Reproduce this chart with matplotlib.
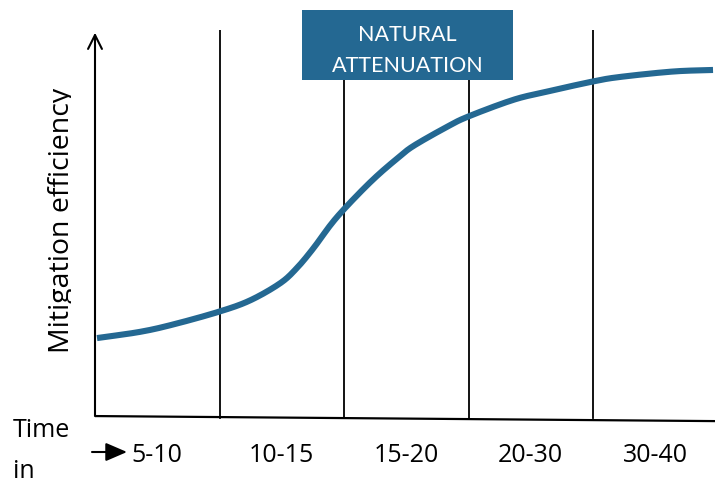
import matplotlib
matplotlib.use("Agg")
import matplotlib.pyplot as plt
from matplotlib.patches import Rectangle, FancyArrowPatch
from matplotlib.transforms import Bbox, TransformedBbox
import numpy as np

# ---- data ----
categories = ["5-10", "10-15", "15-20", "20-30", "30-40"]
curve_x = [0.016, 0.361, 0.627, 0.996, 1.245, 1.486, 1.620, 1.753, 1.888, 1.994,
           2.155, 2.289, 2.436, 2.557, 2.825, 2.998, 3.360, 3.628, 3.994, 4.217,
           4.643, 4.964]
curve_eff = [20.6, 22.2, 24.1, 27.4, 30.3, 34.7, 38.6, 43.7, 49.6, 53.6,
             59.0, 63.1, 67.1, 70.1, 75.0, 77.7, 82.0, 84.1, 86.7, 87.9,
             89.3, 89.7]
dividers = [1, 2, 3, 4]
title_lines = ["NATURAL", "ATTENUATION"]
ylabel = "Mitigation efficiency"
xlabel_lines = ["Time", "in"]

W, H = 715, 484
BLUE = "#246892"
FONT = "Open Sans"


def smooth(xs, ys, n=24):
    """Catmull-Rom rendering of the read points (drawing only)."""
    p = np.column_stack([xs, ys]).astype(float)
    p = np.vstack([2 * p[0] - p[1], p, 2 * p[-1] - p[-2]])
    out = []
    t = np.linspace(0, 1, n, endpoint=False)[:, None]
    for i in range(1, len(p) - 2):
        p0, p1, p2, p3 = p[i - 1], p[i], p[i + 1], p[i + 2]
        seg = 0.5 * ((2 * p1) + (-p0 + p2) * t + (2 * p0 - 5 * p1 + 4 * p2 - p3) * t ** 2
                     + (-p0 + 3 * p1 - 3 * p2 + p3) * t ** 3)
        out.append(seg)
    out.append(p[-2][None, :])
    out = np.vstack(out)
    return out[:, 0], out[:, 1]


fig = plt.figure(figsize=(W / 100, H / 100), dpi=100)

px_unit = 124.5
x0_px, y0_px, ytop_px = 95, 418, 30
py_unit = (y0_px - ytop_px) / 100.0
xmax = (W - x0_px) / px_unit
ymin, ymax = -2.0, 100.0
bottom_px = y0_px - ymin * py_unit
ax = fig.add_axes([x0_px / W, (H - bottom_px) / H, (W - x0_px) / W,
                   (ymax - ymin) * py_unit / H])
ax.set_xlim(0, xmax)
ax.set_ylim(ymin, ymax)
ax.axis("off")

sx, sy = smooth(curve_x, curve_eff)
ax.plot(sx, sy, color=BLUE, lw=4.4, solid_capstyle="butt",
        solid_joinstyle="round", zorder=3)

for d in dividers:
    ax.plot([d, d], [0, 100], color="black", lw=1.3, zorder=2)

ax.plot([0, xmax], [0.5, -0.8], color="black", lw=1.6, zorder=2)

ax.annotate("", xy=(0, 99.3), xytext=(0, 0.5),
            arrowprops=dict(arrowstyle="->,head_length=1.0,head_width=0.5",
                            color="black", lw=1.5, shrinkA=0, shrinkB=0))

for i, c in enumerate(categories):
    ax.text(i + 0.5, -11.3, c, ha="center", va="baseline", fontsize=18,
            family=FONT, color="black", clip_on=False)

fig_arrow_y = 1 - 452 / H
fig.patches.append(FancyArrowPatch(
    (92 / W, fig_arrow_y), (127 / W, fig_arrow_y), transform=fig.transFigure,
    arrowstyle="-|>,head_length=0.65,head_width=0.28", color="black", lw=1.5,
    shrinkA=0, shrinkB=0, mutation_scale=20))

fig.text(13 / W, 1 - 437 / H, xlabel_lines[0], ha="left", va="baseline",
         fontsize=18, family=FONT)
fig.text(13 / W, 1 - 478 / H, xlabel_lines[1], ha="left", va="baseline",
         fontsize=18, family=FONT)

# label axes: a strip left of the plot, its own clip box cuts the descenders
lab_ax = fig.add_axes([0, 0, 71 / W, 1])
lab_ax.set_xlim(0, 71)
lab_ax.set_ylim(H, 0)
lab_ax.axis("off")
lab_ax.text(68.5, 353, ylabel, rotation=90, ha="left", va="baseline",
            fontsize=20.5, family=FONT, rotation_mode="anchor", clip_on=True)

box = Rectangle((302 / W, 1 - 80 / H), (513 - 302) / W, 70 / H,
                transform=fig.transFigure, facecolor=BLUE, edgecolor="none",
                zorder=5)
fig.patches.append(box)
t1 = fig.text(407 / W, 1 - 40.7 / H, title_lines[0], ha="center", va="baseline",
              fontsize=15.5, family="Lato", color="white", zorder=6)
t2 = fig.text(408 / W, 1 - 72.5 / H, title_lines[1], ha="center", va="baseline",
              fontsize=15.5, family="Lato", color="white", zorder=6)

fig.savefig("out.png", dpi=100)
